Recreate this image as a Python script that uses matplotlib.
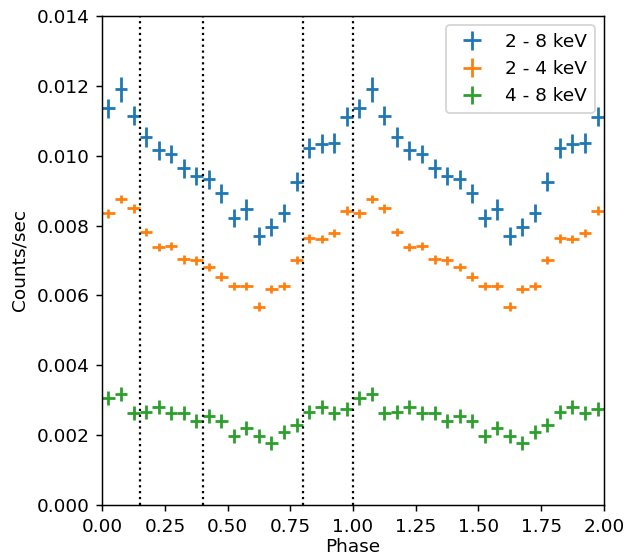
import numpy as np
import matplotlib
matplotlib.use("Agg")
import matplotlib.pyplot as plt

# Phase bin centres for one cycle (20 bins), plotted twice
phase_one = [0.025, 0.075, 0.125, 0.175, 0.225, 0.275, 0.325, 0.375, 0.425, 0.475,
             0.525, 0.575, 0.625, 0.675, 0.725, 0.775, 0.825, 0.875, 0.925, 0.975]
phase_halfwidth = 0.025

rate_2_8 = [0.01136, 0.01190, 0.01115, 0.01053, 0.01016, 0.01005, 0.00964, 0.00942, 0.00933, 0.00892,
            0.00821, 0.00847, 0.00770, 0.00797, 0.00837, 0.00926, 0.01023, 0.01035, 0.01036, 0.01112]
err_2_8 = [0.00028, 0.00036, 0.00028, 0.00028, 0.00027, 0.00027, 0.00027, 0.00027, 0.00027, 0.00027,
           0.00026, 0.00030, 0.00026, 0.00026, 0.00026, 0.00027, 0.00028, 0.00028, 0.00028, 0.00028]

rate_2_4 = [0.00835, 0.00877, 0.00849, 0.00781, 0.00738, 0.00742, 0.00703, 0.00700, 0.00682, 0.00654,
            0.00627, 0.00627, 0.00568, 0.00618, 0.00627, 0.00701, 0.00763, 0.00762, 0.00778, 0.00843]
err_2_4 = [0.00012] * 20

rate_4_8 = [0.00305, 0.00318, 0.00264, 0.00267, 0.00280, 0.00262, 0.00264, 0.00241, 0.00255, 0.00239,
            0.00198, 0.00219, 0.00198, 0.00178, 0.00210, 0.00229, 0.00266, 0.00280, 0.00262, 0.00274]
err_4_8 = [0.00020] * 20

boundaries = [0.15, 0.4, 0.8, 1.0]
labels = ["2 - 8 keV", "2 - 4 keV", "4 - 8 keV"]
colors = ["#1f77b4", "#ff7f0e", "#2ca02c"]

phase = np.concatenate([phase_one, np.array(phase_one) + 1.0])

fig = plt.figure(figsize=(627 / 133, 556 / 133), dpi=133)
ax = fig.add_axes([0.163, 0.092, 0.800, 0.879])

for rate, err, lab, col in zip([rate_2_8, rate_2_4, rate_4_8],
                               [err_2_8, err_2_4, err_4_8], labels, colors):
    ax.errorbar(phase, np.tile(rate, 2), xerr=phase_halfwidth,
                yerr=np.tile(err, 2), fmt='none', ecolor=col, label=lab)

for b in boundaries:
    ax.axvline(b, color='black', linestyle=':', linewidth=1.2)

ax.set_xlim(0, 2)
ax.set_ylim(0, 0.014)
ax.set_xticks(np.arange(0, 2.01, 0.25))
ax.set_yticks(np.arange(0, 0.0141, 0.002))
ax.set_xlabel("Phase", labelpad=1)
ax.set_ylabel("Counts/sec")
ax.legend(loc='upper right')

fig.savefig("out.png", dpi=133)
